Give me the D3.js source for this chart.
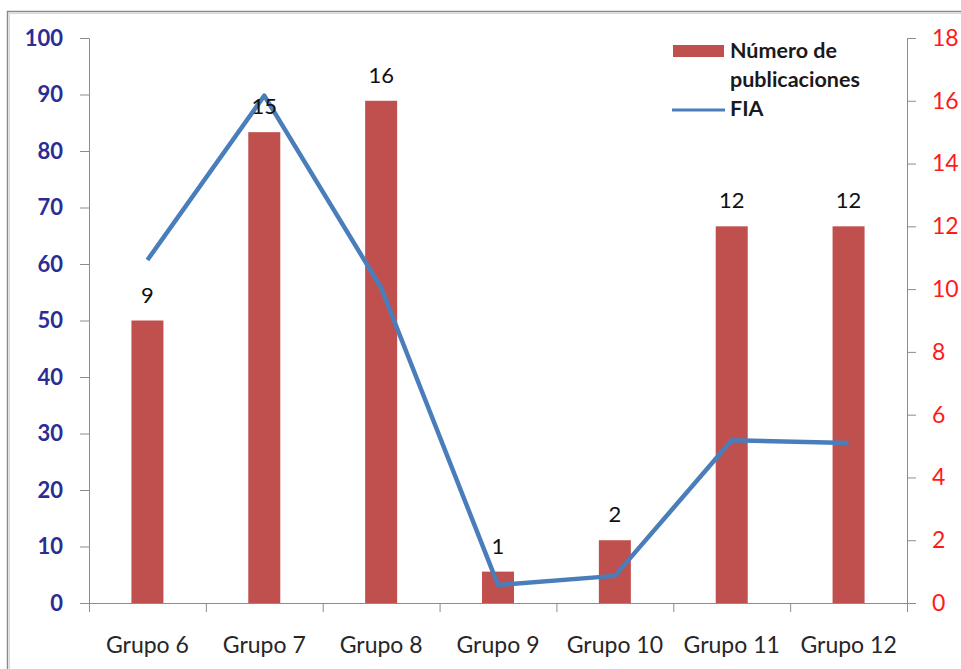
<!DOCTYPE html>
<html>
<head>
<meta charset="utf-8">
<script src="https://cdn.jsdelivr.net/npm/d3@7"></script>
<style>
  html, body { margin: 0; padding: 0; background: #fff; }
  svg { display: block; font-family: Lato, "Open Sans", sans-serif; }
</style>
</head>
<body>
<svg id="chart" width="961" height="669"></svg>
<script>
// Groups along the x axis
const categories = ["Grupo 6", "Grupo 7", "Grupo 8", "Grupo 9", "Grupo 10", "Grupo 11", "Grupo 12"];
// Number of publications per group (bars, right axis)
const publicaciones = [9, 15, 16, 1, 2, 12, 12];
// FIA per group (line, left axis)
const fia = [60.7, 89.8, 55.8, 3.2, 4.8, 28.8, 28.3];
// Axis tick values
const leftTicks = [0, 10, 20, 30, 40, 50, 60, 70, 80, 90, 100];
const rightTicks = [0, 2, 4, 6, 8, 10, 12, 14, 16, 18];
const seriesNames = ["Número de", "publicaciones", "FIA"];

const svg = d3.select("#chart");
const plotLeft = 89, plotRight = 907, plotTop = 38, plotBottom = 603;

const x = d3.scaleBand().domain(categories).range([plotLeft, plotRight]).paddingInner(0).paddingOuter(0);
const yLeft = d3.scaleLinear().domain([0, 100]).range([plotBottom, plotTop]);
const yRight = d3.scaleLinear().domain([0, 18]).range([plotBottom, plotTop]);

const axisColor = "#8c8c8c";

// Outer frame
svg.append("path")
  .attr("d", "M7.5,669 V11.5 H961")
  .attr("fill", "none").attr("stroke", "#8a8a8a").attr("stroke-width", 1.5);
svg.append("path")
  .attr("d", "M9.5,669 V13.5 H961")
  .attr("fill", "none").attr("stroke", "#d8d8d8").attr("stroke-width", 1);

// Bars (publications, right scale)
const barW = 32;
svg.append("g").selectAll("rect")
  .data(publicaciones)
  .join("rect")
  .attr("x", (d, i) => x(categories[i]) + x.bandwidth() / 2 - barW / 2)
  .attr("y", d => yRight(d))
  .attr("width", barW)
  .attr("height", d => plotBottom - yRight(d))
  .attr("fill", "#C0504D");

// Left axis
const gL = svg.append("g").attr("transform", `translate(${plotLeft},0)`)
  .call(d3.axisLeft(yLeft).tickValues(leftTicks).tickSize(9).tickPadding(17));
gL.select(".domain").attr("stroke", axisColor).attr("d", `M-9,${plotTop}.5H0.5V${plotBottom}.5`);
gL.selectAll(".tick line").attr("stroke", axisColor);
gL.selectAll(".tick text")
  .attr("fill", "#2b2d94").attr("font-size", 22).attr("font-weight", 700)
  .attr("font-family", "Lato, sans-serif");

// Right axis
const gR = svg.append("g").attr("transform", `translate(${plotRight},0)`)
  .call(d3.axisRight(yRight).tickValues(rightTicks).tickSize(9).tickPadding(16));
gR.select(".domain").attr("stroke", axisColor).attr("d", `M9,${plotTop}.5H0.5V${plotBottom + 9}`);
gR.selectAll(".tick text")
  .attr("fill", "#ff1a1a").attr("font-size", 23).attr("font-family", "Lato, sans-serif");
gR.selectAll(".tick line").attr("stroke", axisColor);

// Bottom axis with ticks at category boundaries
const gB = svg.append("g").attr("transform", `translate(0,${plotBottom})`);
gB.append("line").attr("x1", plotLeft).attr("x2", plotRight).attr("y1", 0.5).attr("y2", 0.5)
  .attr("stroke", axisColor);
const bounds = categories.map(c => x(c)).concat([plotRight]);
gB.selectAll("line.b").data(bounds).join("line").attr("class", "b")
  .attr("x1", d => d + 0.5).attr("x2", d => d + 0.5).attr("y1", 0).attr("y2", 9)
  .attr("stroke", axisColor);
gB.selectAll("text").data(categories).join("text")
  .attr("x", d => x(d) + x.bandwidth() / 2)
  .attr("y", 50)
  .attr("text-anchor", "middle")
  .attr("font-size", 23)
  .attr("fill", "#262626")
  .text(d => d);

// FIA line (left scale)
const line = d3.line()
  .x((d, i) => x(categories[i]) + x.bandwidth() / 2)
  .y(d => yLeft(d));
svg.append("path").datum(fia)
  .attr("d", line)
  .attr("fill", "none")
  .attr("stroke", "#4A7EBB")
  .attr("stroke-width", 4.5)
  .attr("stroke-linejoin", "round");

// Data labels for bars
svg.append("g").selectAll("text")
  .data(publicaciones)
  .join("text")
  .attr("x", (d, i) => x(categories[i]) + x.bandwidth() / 2)
  .attr("y", d => yRight(d) - 18)
  .attr("text-anchor", "middle")
  .attr("font-size", 22)
  .attr("fill", "#111")
  .text(d => d);

// Legend
const lg = svg.append("g").attr("font-size", 21.5).attr("font-weight", 700).attr("fill", "#1a1a1a");
lg.append("rect").attr("x", 673).attr("y", 45).attr("width", 51).attr("height", 12).attr("fill", "#C0504D");
lg.append("text").attr("x", 730).attr("y", 58).text(seriesNames[0]);
lg.append("text").attr("x", 730).attr("y", 87).text(seriesNames[1]);
lg.append("line").attr("x1", 672).attr("x2", 725).attr("y1", 110).attr("y2", 110)
  .attr("stroke", "#4A7EBB").attr("stroke-width", 3);
lg.append("text").attr("x", 730).attr("y", 116).text(seriesNames[2]);
</script>
</body>
</html>
